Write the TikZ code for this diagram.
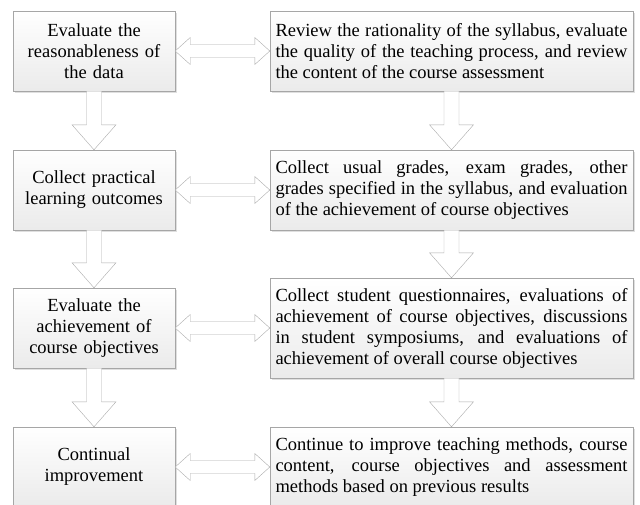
\documentclass[tikz,border=0pt]{standalone}
\usepackage{fontspec}
\setmainfont{Liberation Serif}
\usetikzlibrary{calc,shadows}
\tikzset{
every box/.style={draw=gray!70, top color=white, bottom color=gray!16},
}

\begin{document}
\begin{tikzpicture}[x=1pt, y=-1pt, font=\fontsize{18.5}{21}\selectfont,
						box/.style={every box, drop shadow={opacity=0.25, shadow xshift=1.5pt, shadow yshift=-1.5pt},
                                    minimum height=80pt, inner xsep=5.5pt, inner ysep=3pt},
                        lbox/.style={box, text width=151pt, align=center},
                        rbox/.style={box, text width=352pt, align=justify},
                        downarrow/.style={draw=gray!65, fill=white, to path={
                            let \p1=(\tikztostart), \p2=(\tikztotarget) in
                            (\x1-7.5pt,\y1) -- (\x1-7.5pt,\y2+25pt) -- (\x1-22pt,\y2+25pt) -- (\x2,\y2)
                            -- (\x1+22pt,\y2+25pt) -- (\x1+7.5pt,\y2+25pt) -- (\x1+7.5pt,\y1) -- cycle}},
                        sidearrow/.style={draw=gray!65, fill=white, to path={
                            let \p1=(\tikztostart), \p2=(\tikztotarget) in
                            (\x1,\y1) -- (\x1+15pt,\y1+13.5pt) -- (\x1+15pt,\y1+6.5pt) -- (\x2-15pt,\y1+6.5pt)
                            -- (\x2-15pt,\y1+13.5pt) -- (\x2,\y1) -- (\x2-15pt,\y1-13.5pt) -- (\x2-15pt,\y1-6.5pt)
                            -- (\x1+15pt,\y1-6.5pt) -- (\x1+15pt,\y1-13.5pt) -- cycle}},
					]
					\useasboundingbox (0,0) rectangle (640,504);
					\clip (0,0) rectangle (640,504);
					% left column
					\node[lbox] (eval) at (94,51) {Evaluate the\\reasonableness of\\the data};
					\node[lbox] (collect) at (94,190) {Collect practical\\learning outcomes};
					\node[lbox] (achieve) at (94,328) {Evaluate the\\achievement of\\course objectives};
					\node[lbox] (improve) at (94,467) {Continual\\improvement};
					% right column
					\node[rbox] (review) at (451.5,51) {Review the rationality of the syllabus, evaluate\linebreak
                        the quality of the teaching process, and review\linebreak the content of the course assessment};
					\node[rbox] (grades) at (451.5,190) {Collect usual grades, exam grades, other\linebreak
                        grades specified in the syllabus, and evaluation\linebreak of the achievement of course objectives};
					\node[rbox, minimum height=100pt] (survey) at (451.5,328) {Collect student questionnaires, evaluations of\linebreak
                        achievement of course objectives, discussions\linebreak in student symposiums, and evaluations of\linebreak
                        achievement of overall course objectives};
					\node[rbox] (methods) at (451.5,467) {Continue to improve teaching methods, course\linebreak
                        content, course objectives and assessment\linebreak methods based on previous results};
                    % flow arrows
                    \draw[downarrow] (eval.south) to (collect.north);
                    \draw[downarrow] (collect.south) to (achieve.north);
                    \draw[downarrow] (achieve.south) to (improve.north);
                    \draw[downarrow] (review.south) to (grades.north);
                    \draw[downarrow] (grades.south) to (survey.north);
                    \draw[downarrow] (survey.south) to (methods.north);
                    \draw[sidearrow] (eval.east) to (review.west);
                    \draw[sidearrow] (collect.east) to (grades.west);
                    \draw[sidearrow] (achieve.east) to (survey.west);
                    \draw[sidearrow] (improve.east) to (methods.west);
	\end{tikzpicture}
\end{document}
